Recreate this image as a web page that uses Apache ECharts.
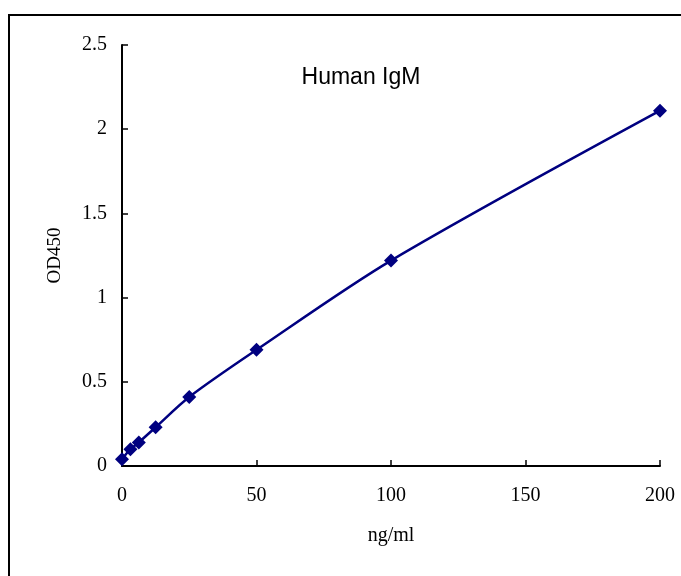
<!DOCTYPE html>
<html><head><meta charset="utf-8">
<script src="https://cdn.jsdelivr.net/npm/echarts@6/dist/echarts.min.js"></script>
<style>html,body{margin:0;padding:0;background:#fff}#c{width:681px;height:576px}</style>
</head><body><div id="c"></div>
<script>
const concentrations = [0, 3.125, 6.25, 12.5, 25, 50, 100, 200];
const od450 = [0.04, 0.10, 0.14, 0.23, 0.41, 0.69, 1.22, 2.11];
const titleText = 'Human IgM';
const xName = 'ng/ml';
const yName = 'OD450';

const chart = echarts.init(document.getElementById('c'));
const serif = 'Liberation Serif';
chart.setOption({
  animation: false,
  backgroundColor: '#fff',
  title: {text: titleText, left: 356, top: 61, textAlign: 'center',
    textStyle: {fontFamily: 'Liberation Sans', fontSize: 23, fontWeight: 'normal', color: '#000'}},
  graphic: [{type: 'rect', shape: {x: 9, y: 15, width: 720, height: 620},
    style: {fill: 'none', stroke: '#000', lineWidth: 2}}],
  grid: {left: 122, right: 21, top: 45, bottom: 110},
  xAxis: {type: 'value', min: 0, max: 200, interval: 50,
    name: xName, nameLocation: 'middle', nameGap: 60,
    nameTextStyle: {fontFamily: serif, fontSize: 20, color: '#000'},
    axisLine: {lineStyle: {color: '#000', width: 2}},
    axisTick: {inside: true, length: 6, lineStyle: {color: '#000', width: 1.5}},
    axisLabel: {fontFamily: serif, fontSize: 20, color: '#000', margin: 20},
    splitLine: {show: false}},
  yAxis: {type: 'value', min: 0, max: 2.5, interval: 0.5,
    name: yName, nameLocation: 'middle', nameGap: 57,
    nameTextStyle: {fontFamily: serif, fontSize: 19, color: '#000'},
    axisLine: {show: true, lineStyle: {color: '#000', width: 2}},
    axisTick: {show: true, inside: true, length: 6, lineStyle: {color: '#000', width: 1.5}},
    axisLabel: {fontFamily: serif, fontSize: 20, color: '#000', margin: 15},
    splitLine: {show: false}},
  series: [{type: 'line', smooth: 0.3,
    data: concentrations.map((c, i) => [c, od450[i]]),
    symbol: 'diamond', symbolSize: 14,
    lineStyle: {color: '#000080', width: 2.5},
    itemStyle: {color: '#000080'}}]
});
</script></body></html>
